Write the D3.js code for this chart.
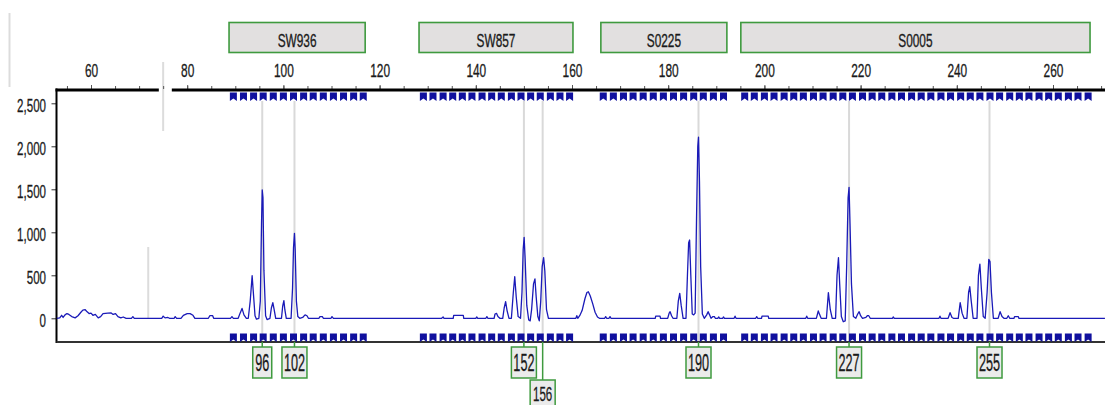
<!DOCTYPE html>
<html><head><meta charset="utf-8">
<script src="https://cdn.jsdelivr.net/npm/d3@7/dist/d3.min.js"></script>
<style>
html,body{margin:0;padding:0;background:#fff;}
svg{display:block;font-family:"Liberation Sans",Arial,sans-serif;}
</style></head>
<body><svg id="c" width="1105" height="405"></svg>
<script>
// ---------- data ----------
const topTickValues = [60, 80, 100, 120, 140, 160, 180, 200, 220, 240, 260];
const yTickValues = [0, 500, 1000, 1500, 2000, 2500];

const lociNames = ["SW936", "SW857", "S0225", "S0005"];
const lociStart = [88.7, 128.2, 166.0, 195.1];
const lociEnd = [117.0, 160.2, 192.2, 267.7];

const binsSW936 = [89.6, 91.7, 93.8, 95.8, 97.9, 100.0, 102.1, 104.2, 106.2, 108.3, 110.4, 112.5, 114.6, 116.6];
const binsSW857 = [129.1, 131.1, 133.2, 135.2, 137.2, 139.2, 141.3, 143.3, 145.3, 147.4, 149.4, 151.4, 153.4, 155.5, 157.5, 159.5];
const binsS0225 = [166.5, 168.6, 170.7, 172.7, 174.8, 176.9, 179.0, 181.1, 183.2, 185.3, 187.3, 189.4, 191.5];
const binsS0005 = [195.9, 197.9, 200.0, 202.0, 204.1, 206.1, 208.1, 210.2, 212.2, 214.3, 216.3, 218.3, 220.4, 222.4, 224.4, 226.5, 228.5, 230.6, 232.6, 234.6, 236.7, 238.7, 240.8, 242.8, 244.8, 246.9, 248.9, 251.0, 253.0, 255.0, 257.1, 259.1, 261.1, 263.2, 265.2, 267.3];

const alleleLabels = ["96", "102", "152", "156", "190", "227", "255"];
const allelePos = [95.6, 102.3, 150.0, 153.9, 186.3, 217.6, 246.8];
const alleleRow = [0, 0, 0, 1, 0, 0, 0];

// electropherogram trace: [size (bp), signal (RFU)]
const trace = [
[52.9,0],[53.5,5],[53.9,35],[54.2,10],[54.6,40],[55.0,55],[55.4,45],[56.0,20],[56.7,5],[57.3,30],[57.9,70],[58.3,95],[58.8,100],[59.2,75],[59.6,55],[60.0,60],[60.4,35],[60.9,45],[61.5,5],[62.0,20],[62.5,55],[63.5,60],[64.2,62],[64.6,45],[65.1,55],[65.6,20],[66.2,5],[66.7,15],[67.3,0],[68.4,0],[68.7,20],[69.0,0],[74.7,0],[75.0,25],[75.4,5],[76.0,10],[76.3,0],[77.3,0],[77.5,20],[77.8,0],[78.7,0],[79.2,35],[80.0,55],[80.6,55],[81.2,35],[81.6,0],[84.4,0],[84.7,30],[85.3,30],[85.5,0],[89.0,0],[89.3,20],[89.6,0],[90.6,0],[91.0,60],[91.4,115],[91.8,40],[92.3,0],
[92.7,0],[93.1,200],[93.5,495],[93.75,300],[94.1,30],[94.4,-10],[94.9,0],[95.2,200],[95.45,1100],[95.6,1492],[95.75,1400],[95.95,560],[96.3,30],[96.6,-15],[97.2,0],[97.5,120],[97.8,181],[98.05,110],[98.4,0],[99.6,0],[99.85,140],[100.1,205],[100.3,100],[100.6,0],[101.6,0],[101.9,350],[102.1,820],[102.3,988],[102.45,800],[102.7,200],[103.0,20],[103.4,0],[104.0,10],[104.5,40],[104.9,30],[105.2,0],[107.4,0],[107.6,20],[108.1,20],[108.3,0],[109.9,0],[110.1,20],[110.4,0],
[132.9,0],[133.2,15],[133.4,0],[135.3,0],[135.4,35],[137.4,35],[137.5,0],[140.0,0],[140.2,15],[140.4,0],[142.1,0],[142.3,20],[142.5,0],[143.8,0],[144.0,50],[144.3,58],[144.6,20],[145.0,0],
[145.6,0],[145.9,120],[146.2,193],[146.5,90],[146.9,0],[147.4,0],[147.8,300],[148.1,484],[148.4,250],[148.8,20],[149.3,0],[149.6,300],[149.85,800],[150.05,942],[150.25,700],[150.6,150],[151.0,-20],[151.3,-30],[151.6,100],[152.0,400],[152.3,457],[152.55,250],[152.9,20],[153.2,-30],[153.5,200],[153.8,600],[154.1,705],[154.35,550],[154.7,100],[155.1,0],[155.6,0],
[160.8,0],[161.0,30],[161.2,0],[161.6,30],[162.1,90],[162.7,230],[163.1,300],[163.4,309],[163.8,260],[164.3,170],[164.8,70],[165.3,15],[165.7,0],[166.8,0],[167.0,20],[167.2,0],[167.7,0],[167.9,20],[168.1,0],
[177.3,0],[177.4,25],[178.3,25],[178.4,0],[179.9,0],[180.2,60],[180.4,77],[180.7,30],[181.0,0],[181.8,0],[182.1,200],[182.4,290],[182.7,150],[183.1,0],[183.7,0],[184.0,500],[184.25,880],[184.45,910],[184.7,500],[185.0,50],[185.3,40],[185.6,60],[185.9,1200],[186.15,2000],[186.3,2105],[186.5,1600],[186.75,600],[187.1,50],[187.5,0],[188.0,40],[188.3,77],[188.6,40],[188.9,0],[189.3,20],[189.6,20],[189.8,0],[190.3,0],[190.5,15],[190.7,0],[191.3,0],[191.5,15],[191.7,0],
[193.7,0],[193.9,25],[194.1,0],[198.2,0],[198.4,20],[198.6,0],[199.4,0],[199.5,25],[200.8,25],[200.9,0],[208.6,0],[208.8,25],[209.0,0],[210.8,0],[211.2,85],[211.5,40],[211.8,0],[212.9,0],[213.3,298],[213.7,100],[214.1,0],[214.8,0],[215.1,500],[215.4,705],[215.65,400],[216.0,20],[216.4,-40],[216.8,-30],[217.1,600],[217.4,1400],[217.6,1523],[217.8,1100],[218.1,400],[218.5,20],[219.0,0],[219.4,50],[219.7,77],[220.0,30],[220.4,0],[221.1,10],[221.4,30],[221.7,30],[222.0,0],[226.6,0],[226.8,15],[227.0,0],
[236.3,0],[236.5,25],[236.7,0],[238.2,0],[238.6,65],[239.0,10],[239.3,0],[240.3,0],[240.7,181],[241.1,60],[241.5,0],[242.1,0],[242.45,300],[242.7,367],[243.0,200],[243.4,0],[244.2,0],[244.5,500],[244.8,631],[245.1,350],[245.5,20],[245.9,0],[246.3,300],[246.65,686],[246.9,660],[247.2,300],[247.6,0],[248.6,0],[249.0,77],[249.4,20],[249.8,0],[250.4,0],[250.7,30],[251.0,0],[251.9,0],[252.0,20],[252.8,20],[252.9,0],[270.8,0]
];

// ---------- drawing ----------
const svg = d3.select("#c");
const FONT = '"Liberation Sans", Arial, sans-serif';
const TXT = "#1a1a1a";
const x = d3.scaleLinear().domain([60, 260]).range([91, 1053]);
const y = d3.scaleLinear().domain([0, 2500]).range([318.3, 103.3]);
const plotL = 56.5, plotR = 1105, plotTop = 90, plotBot = 342;

svg.append("rect").attr("width", 1105).attr("height", 405).attr("fill", "#fff");

// faint gray guide lines (artifacts of the source view)
svg.append("line").attr("x1", 9.5).attr("x2", 9.5).attr("y1", 13).attr("y2", 87)
  .attr("stroke", "#dcdcdc").attr("stroke-width", 2);
svg.append("line").attr("x1", x(75.0)).attr("x2", x(75.0)).attr("y1", 62).attr("y2", 131)
  .attr("stroke", "#dcdcdc").attr("stroke-width", 2);
svg.append("line").attr("x1", x(71.9)).attr("x2", x(71.9)).attr("y1", 247).attr("y2", 318)
  .attr("stroke", "#dcdcdc").attr("stroke-width", 2);

// locus boxes
const loci = lociNames.map((n, i) => ({ name: n, s: lociStart[i], e: lociEnd[i] }));
const lg = svg.append("g").selectAll("g").data(loci).join("g");
lg.append("rect").attr("x", d => x(d.s)).attr("y", 22.5).attr("width", d => x(d.e) - x(d.s)).attr("height", 30)
  .attr("fill", "#e2e0e0").attr("stroke", "#3f9a3f").attr("stroke-width", 1.6);
lg.append("text").attr("transform", d => `translate(${(x(d.s) + x(d.e)) / 2},46.5) scale(0.64,1)`)
  .attr("text-anchor", "middle").attr("font-size", 18.5).attr("fill", TXT)
  .attr("stroke", TXT).attr("stroke-width", 0.35).text(d => d.name);

// top axis (size scale)
const minorTicks = d3.range(55, 271, 5);
const topMinor = svg.append("g").attr("transform", `translate(0,${plotTop - 1})`)
  .call(d3.axisTop(x).tickValues(minorTicks).tickSize(3).tickFormat(""));
topMinor.select(".domain").remove();
topMinor.selectAll("line").attr("stroke", "#555");
const topAxis = svg.append("g").attr("transform", `translate(0,${plotTop - 1})`)
  .call(d3.axisTop(x).tickValues(topTickValues).tickSize(4).tickPadding(8.5).tickFormat(d3.format("d")));
topAxis.select(".domain").remove();
topAxis.selectAll("line").attr("stroke", "#555");
topAxis.selectAll("text").attr("transform", "scale(0.68,1)").attr("font-size", 17.5)
  .attr("font-family", FONT).attr("fill", TXT).attr("stroke", TXT).attr("stroke-width", 0.3);

// thick top line with a break
svg.append("line").attr("x1", plotL - 1).attr("x2", x(74.1)).attr("y1", plotTop).attr("y2", plotTop)
  .attr("stroke", "#000").attr("stroke-width", 3);
svg.append("line").attr("x1", x(76.8)).attr("x2", plotR).attr("y1", plotTop).attr("y2", plotTop)
  .attr("stroke", "#000").attr("stroke-width", 3);

// left axis (RFU)
const yAxis = svg.append("g").attr("transform", `translate(${plotL},0)`)
  .call(d3.axisLeft(y).tickValues(yTickValues).tickSize(5).tickFormat(d3.format(",")));
yAxis.select(".domain").remove();
yAxis.selectAll("line").attr("stroke", "#333");
yAxis.selectAll("text").attr("x", 0).attr("dy", "0.44em")
  .attr("transform", "translate(-10.5,0) scale(0.66,1)").attr("font-size", 17.5)
  .attr("font-family", FONT).attr("fill", TXT).attr("stroke", TXT).attr("stroke-width", 0.3);
svg.append("line").attr("x1", plotL).attr("x2", plotL).attr("y1", plotTop - 1.5).attr("y2", plotBot + 1)
  .attr("stroke", "#000").attr("stroke-width", 2);

// bottom axis line
svg.append("line").attr("x1", plotL).attr("x2", plotR).attr("y1", plotBot).attr("y2", plotBot)
  .attr("stroke", "#333").attr("stroke-width", 2);

// allele call lines
const alleles = alleleLabels.map((l, i) => ({ label: l, pos: allelePos[i], row: alleleRow[i] }));
const boxTop = r => r === 0 ? 347 : 380;
svg.append("g").selectAll("line").data(alleles).join("line")
  .attr("x1", d => x(d.pos)).attr("x2", d => x(d.pos)).attr("y1", 101).attr("y2", plotBot - 1)
  .attr("stroke", "#d9d9d9").attr("stroke-width", 2);
svg.append("g").selectAll("line").data(alleles).join("line")
  .attr("x1", d => x(d.pos)).attr("x2", d => x(d.pos)).attr("y1", plotBot).attr("y2", d => boxTop(d.row))
  .attr("stroke", "#3f9a3f").attr("stroke-width", 1.5);

// bin markers
const allBins = [].concat(binsSW936, binsSW857, binsS0225, binsS0005);
const marker = (cx, y0) => `M${cx - 3.5},${y0} h7 v8.5 l-3.5,-2.4 l-3.5,2.4 z`;
[92.5, 333.5].forEach(y0 => {
  svg.append("g").selectAll("path").data(allBins).join("path")
    .attr("d", d => marker(x(d), y0)).attr("fill", "#10109e");
});

// trace
svg.append("path").datum(trace)
  .attr("d", d3.line().x(d => x(d[0])).y(d => y(d[1])))
  .attr("fill", "none").attr("stroke", "#1a1ab8").attr("stroke-width", 1.3).attr("stroke-linejoin", "round");

// allele label boxes
const ag = svg.append("g").selectAll("g").data(alleles).join("g");
ag.append("rect")
  .attr("x", d => x(d.pos) - (d.label.length === 2 ? 9.5 : 12.5))
  .attr("width", d => d.label.length === 2 ? 19 : 25)
  .attr("y", d => boxTop(d.row)).attr("height", 31)
  .attr("fill", "#ebebeb").attr("stroke", "#3f9a3f").attr("stroke-width", 1.5);
ag.append("text").attr("transform", d => `translate(${x(d.pos)},${boxTop(d.row) + (d.row === 0 ? 23.7 : 20.5)}) scale(0.55,1)`)
  .attr("text-anchor", "middle").attr("font-size", d => d.row === 0 ? 23 : 21).attr("fill", TXT)
  .attr("stroke", TXT).attr("stroke-width", 0.3).text(d => d.label);
</script></body></html>
